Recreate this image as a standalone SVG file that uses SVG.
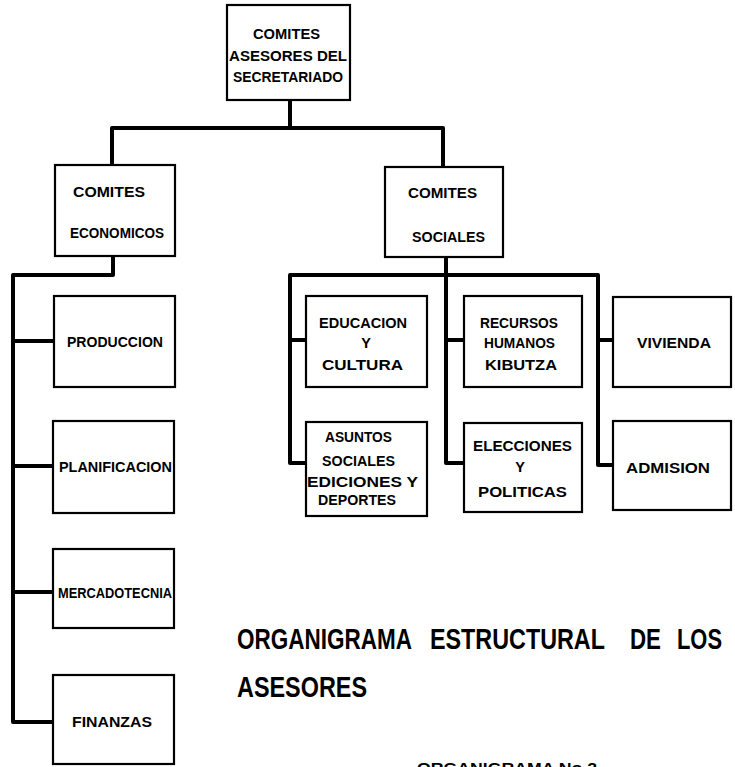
<svg xmlns="http://www.w3.org/2000/svg" width="735" height="767" viewBox="0 0 735 767">
<style>
.box{fill:#fff;stroke:#000;stroke-width:2.2}
.con{fill:none;stroke:#000;stroke-width:4;stroke-linejoin:round;stroke-linecap:square}
text{font-family:"Liberation Sans","Arial",sans-serif;font-weight:bold;fill:#000}
.l{font-size:14.5px}
.t{font-size:22px}
.s{font-size:14px}
</style>
<rect width="735" height="767" fill="#fff"/>
<g id="connectors">
<path class="con" d="M290,100 V128"/>
<path class="con" d="M112,165 V128 H443 V165"/>
<path class="con" d="M113,256 V275 H13 V722 H54"/>
<path class="con" d="M13,341 H54 M13,466 H53 M13,592 H53"/>
<path class="con" d="M446,257 V463 H464 M446,340 H464"/>
<path class="con" d="M306,463 H290 V275 H598 V465 H613 M290,340 H306 M598,340 H613"/>
</g>
<g id="n-secretariado">
<rect class="box" x="227" y="5" width="123" height="95"/>
<text class="l" x="253" y="39" textLength="67" lengthAdjust="spacingAndGlyphs">COMITES</text>
<text class="l" x="229" y="61" textLength="118" lengthAdjust="spacingAndGlyphs">ASESORES DEL</text>
<text class="l" x="233" y="82" textLength="110" lengthAdjust="spacingAndGlyphs">SECRETARIADO</text>
</g>
<g id="n-economicos">
<rect class="box" x="55" y="165" width="120" height="91"/>
<text class="l" x="73" y="197" textLength="72" lengthAdjust="spacingAndGlyphs">COMITES</text>
<text class="l" x="70" y="238" textLength="94" lengthAdjust="spacingAndGlyphs">ECONOMICOS</text>
</g>
<g id="n-sociales">
<rect class="box" x="385" y="167" width="118" height="90"/>
<text class="l" x="408" y="198" textLength="69" lengthAdjust="spacingAndGlyphs">COMITES</text>
<text class="l" x="412" y="242" textLength="73" lengthAdjust="spacingAndGlyphs">SOCIALES</text>
</g>
<g id="n-produccion">
<rect class="box" x="54" y="296" width="121" height="91"/>
<text class="l" x="67" y="347" textLength="96" lengthAdjust="spacingAndGlyphs">PRODUCCION</text>
</g>
<g id="n-planificacion">
<rect class="box" x="53" y="421" width="121" height="92"/>
<text class="l" x="59" y="472" textLength="113" lengthAdjust="spacingAndGlyphs">PLANIFICACION</text>
</g>
<g id="n-mercadotecnia">
<rect class="box" x="53" y="549" width="121" height="79"/>
<text class="s" x="58" y="598" textLength="114" lengthAdjust="spacingAndGlyphs">MERCADOTECNIA</text>
</g>
<g id="n-finanzas">
<rect class="box" x="53" y="675" width="121" height="89"/>
<text class="s" x="72" y="727" textLength="80" lengthAdjust="spacingAndGlyphs">FINANZAS</text>
</g>
<g id="n-educacion">
<rect class="box" x="306" y="296" width="121" height="91"/>
<text class="l" x="319" y="328" textLength="88" lengthAdjust="spacingAndGlyphs">EDUCACION</text>
<text class="l" x="366" y="348" text-anchor="middle">Y</text>
<text class="l" x="322" y="370" textLength="81" lengthAdjust="spacingAndGlyphs">CULTURA</text>
</g>
<g id="n-recursos">
<rect class="box" x="464" y="296" width="118" height="91"/>
<text class="l" x="480" y="328" textLength="78" lengthAdjust="spacingAndGlyphs">RECURSOS</text>
<text class="l" x="484" y="348" textLength="71" lengthAdjust="spacingAndGlyphs">HUMANOS</text>
<text class="l" x="485" y="370" textLength="72" lengthAdjust="spacingAndGlyphs">KIBUTZA</text>
</g>
<g id="n-vivienda">
<rect class="box" x="613" y="297" width="118" height="90"/>
<text class="l" x="637" y="348" textLength="74" lengthAdjust="spacingAndGlyphs">VIVIENDA</text>
</g>
<g id="n-asuntos">
<rect class="box" x="306" y="422" width="121" height="94"/>
<text class="l" x="325" y="442" textLength="67" lengthAdjust="spacingAndGlyphs">ASUNTOS</text>
<text class="l" x="322" y="466" textLength="73" lengthAdjust="spacingAndGlyphs">SOCIALES</text>
<text class="l" x="307" y="487" textLength="111" lengthAdjust="spacingAndGlyphs">EDICIONES Y</text>
<text class="l" x="318" y="505" textLength="78" lengthAdjust="spacingAndGlyphs">DEPORTES</text>
</g>
<g id="n-elecciones">
<rect class="box" x="464" y="423" width="118" height="89"/>
<text class="l" x="473" y="451" textLength="99" lengthAdjust="spacingAndGlyphs">ELECCIONES</text>
<text class="l" x="520" y="472" text-anchor="middle">Y</text>
<text class="l" x="478" y="497" textLength="89" lengthAdjust="spacingAndGlyphs">POLITICAS</text>
</g>
<g id="n-admision">
<rect class="box" x="613" y="421" width="118" height="89"/>
<text class="l" x="626" y="473" textLength="84" lengthAdjust="spacingAndGlyphs">ADMISION</text>
</g>
<g id="title">
<g transform="translate(0,649) scale(1,1.33)">
<text class="t" x="237" y="0" textLength="175" lengthAdjust="spacingAndGlyphs">ORGANIGRAMA</text>
<text class="t" x="430" y="0" textLength="175" lengthAdjust="spacingAndGlyphs">ESTRUCTURAL</text>
<text class="t" x="630" y="0" textLength="31" lengthAdjust="spacingAndGlyphs">DE</text>
<text class="t" x="677" y="0" textLength="45" lengthAdjust="spacingAndGlyphs">LOS</text>
</g>
<g transform="translate(0,697) scale(1,1.33)">
<text class="t" x="237" y="0" textLength="130" lengthAdjust="spacingAndGlyphs">ASESORES</text>
</g>
<text class="s" x="417" y="773" textLength="180" lengthAdjust="spacingAndGlyphs">ORGANIGRAMA No 2</text>
</g>
</svg>
